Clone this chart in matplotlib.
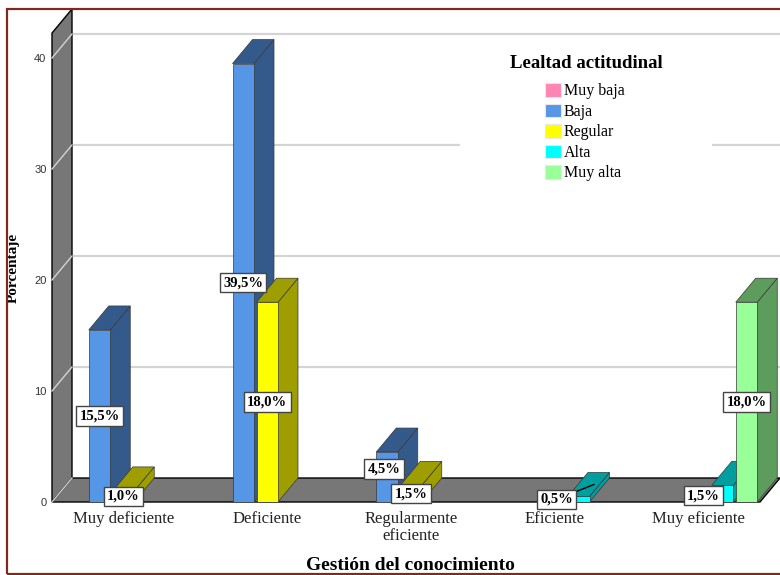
import matplotlib.pyplot as plt
from matplotlib.patches import Polygon, Rectangle, Patch

categories = ['Muy deficiente', 'Deficiente', 'Regularmente\neficiente', 'Eficiente', 'Muy eficiente']
levels = ['Muy baja', 'Baja', 'Regular', 'Alta', 'Muy alta']

# porcentaje por nivel de lealtad en cada categoría de gestión
muy_baja = [0.0, 0.0, 0.0, 0.0, 0.0]
baja = [15.5, 39.5, 4.5, 0.0, 0.0]
regular = [1.0, 18.0, 1.5, 0.0, 0.0]
alta = [0.0, 0.0, 0.0, 0.5, 1.5]
muy_alta = [0.0, 0.0, 0.0, 0.0, 18.0]
series = [muy_baja, baja, regular, alta, muy_alta]

y_ticks = [0, 10, 20, 30, 40]

front_colors = ['#FF85B4', '#5596E6', '#FFFF00', '#00FFFF', '#99FF99']
side_colors = ['#A35575', '#345A8C', '#9E9E00', '#009E9E', '#5C9C5C']

# desplazamiento de algunas etiquetas (pixeles) para que no se tapen
label_nudge = {(2, 1): (-3, 8), (3, 3): (-22, 0), (4, 3): (-19, -2)}

serif = 'Liberation Serif'
sans = 'Liberation Sans'

fig = plt.figure(figsize=(7.8, 5.75), dpi=100)
ax = fig.add_axes([52 / 780, 73 / 575, 728 / 780, 492 / 575])

px_x = 143.75   # pixeles por categoría
px_y = 11.1     # pixeles por punto porcentual
x0 = (52 - 123.5) / px_x
x1 = (780 - 123.5) / px_x
ax.set_xlim(x0, x1)
ax.set_ylim(0, 492 / px_y)

DX = 20 / px_x
DY = 24 / px_y
slot = 24 / px_x
bw = 21.5 / px_x
wall_top = 42.25
floor_right = (760 - 123.5) / px_x

grey = '#777777'
grid_c = '#D4D4D4'

# pared izquierda y piso
ax.add_patch(Polygon([(x0, 0), (x0, wall_top), (x0 + DX, wall_top + DY), (x0 + DX, DY)],
                     closed=True, fc=grey, ec='black', lw=1.0, zorder=1, clip_on=False))
ax.add_patch(Polygon([(x0, 0), (floor_right, 0), (floor_right + DX, DY), (x0 + DX, DY)],
                     closed=True, fc=grey, ec='black', lw=1.0, zorder=1, clip_on=False))

for v in y_ticks:
    ax.plot([x0, x0 + DX], [v, v + DY], color=grid_c, lw=1.0, zorder=2, clip_on=False)
    if v > 0:
        ax.plot([x0 + DX, x1], [v + DY, v + DY], color=grid_c, lw=1.6, zorder=0.5, clip_on=False)

# barras 3D, de izquierda a derecha
z = 3
for ci in range(len(categories)):
    for li, vals in enumerate(series):
        v = vals[ci]
        if v <= 0:
            continue
        xc = ci + (li - 2) * slot
        xl, xr = xc - bw / 2, xc + bw / 2
        ax.add_patch(Polygon([(xr, 0), (xr + DX, DY), (xr + DX, v + DY), (xr, v)],
                             closed=True, fc=side_colors[li], ec='#383838', lw=0.5, zorder=z))
        ax.add_patch(Polygon([(xl, v), (xr, v), (xr + DX, v + DY), (xl + DX, v + DY)],
                             closed=True, fc=side_colors[li], ec='#383838', lw=0.5, zorder=z))
        ax.add_patch(Rectangle((xl, 0), bw, v, fc=front_colors[li], ec='#383838', lw=0.5, zorder=z))
        z += 0.1

# etiquetas de porcentaje
for ci in range(len(categories)):
    for li, vals in enumerate(series):
        v = vals[ci]
        if v <= 0:
            continue
        xc = ci + (li - 2) * slot
        txt = f'{v:.1f}%'.replace('.', ',')
        nx, ny = label_nudge.get((ci, li), (0, 0))
        bbox = dict(boxstyle='square,pad=0.22', fc='white', ec='#444444', lw=1.0)
        if (ci, li) == (3, 3):
            ax.annotate(txt, xy=(xc + DX / 2 + bw / 4, v + DY / 2),
                        xytext=(xc + nx / px_x, v / 2 + ny / px_y), textcoords='data',
                        ha='center', va='center',
                        fontfamily=serif, fontweight='bold', fontsize=10.5, bbox=bbox, zorder=20,
                        arrowprops=dict(arrowstyle='-', color='black', lw=1.0,
                                        shrinkA=0, shrinkB=0))
        else:
            ax.annotate(txt, xy=(xc, v / 2), xytext=(nx, ny), textcoords='offset pixels',
                        ha='center', va='center', fontfamily=serif, fontweight='bold',
                        fontsize=10.5, bbox=bbox, zorder=20)

# ejes
for s in ax.spines.values():
    s.set_visible(False)
ax.set_xticks(range(len(categories)))
ax.set_xticklabels(categories, fontfamily=serif, fontsize=12, color='#222222', linespacing=1.1)
ax.set_yticks(y_ticks)
ax.set_yticklabels([str(t) for t in y_ticks], fontfamily=sans, fontsize=8, color='#333333')
ax.tick_params(axis='both', length=0)
ax.tick_params(axis='y', pad=4)
ax.tick_params(axis='x', pad=6.5)

ax.set_xlabel('Gestión del conocimiento', fontfamily=serif, fontweight='bold', fontsize=14)
ax.xaxis.set_label_coords((410 - 52) / 728, (502 - 570) / 492)
ax.xaxis.label.set_va('baseline')
ax.set_ylabel('Porcentaje', fontfamily=serif, fontweight='bold', fontsize=11)
ax.yaxis.set_label_coords((13 - 52) / 728, (502 - 268) / 492)
ax.yaxis.label.set_va('center')

# leyenda sobre fondo blanco
fig.patches.append(Rectangle((460 / 780, 1 - 200 / 575), 252 / 780, 160 / 575,
                             transform=fig.transFigure, fc='white', ec='none', zorder=1))
fig.text(586.5 / 780, 1 - 63 / 575, 'Lealtad actitudinal', ha='center', va='center',
         fontfamily=serif, fontweight='bold', fontsize=13.5, zorder=30)
handles = [Patch(fc=front_colors[i], ec='#E8E8E8', lw=0.8) for i in range(len(levels))]
leg = fig.legend(handles, levels, loc='upper center', bbox_to_anchor=(585 / 780, 1 - 75 / 575),
                 frameon=False, prop={'family': serif, 'size': 11.5},
                 handlelength=0.95, handleheight=0.95, handletextpad=0.2, labelspacing=0.26,
                 borderpad=0)
leg.set_zorder(30)

# marco exterior
fig.patches.append(Rectangle((7 / 780, 1 - 574 / 575), 800 / 780, 565 / 575,
                             transform=fig.transFigure, fc='none', ec='#7F2A1F', lw=1.6, zorder=40))

fig.savefig('out.png', dpi=100)
